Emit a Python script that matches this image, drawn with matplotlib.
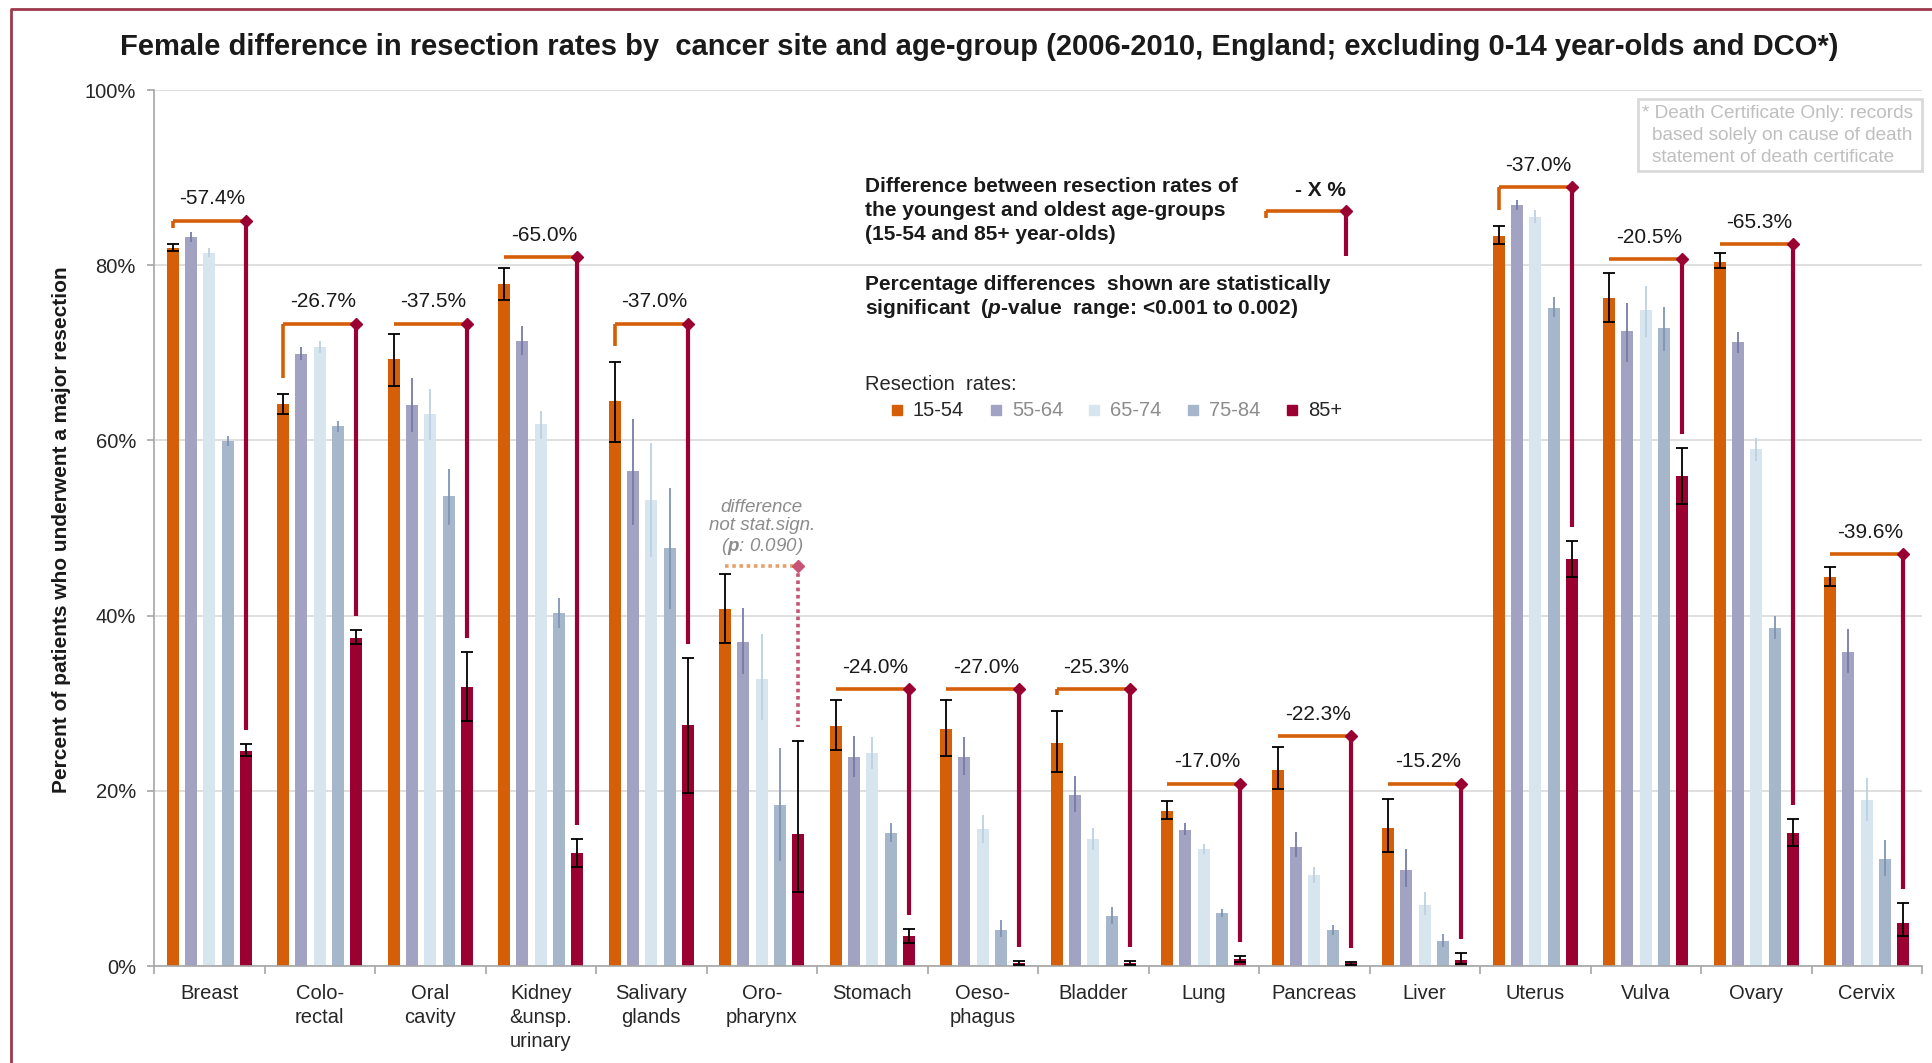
import numpy as np
import matplotlib.pyplot as plt
from matplotlib.lines import Line2D
from matplotlib.patches import Rectangle

plt.rcParams['font.family'] = ['Liberation Sans', 'DejaVu Sans']
plt.rcParams['mathtext.fontset'] = 'custom'
plt.rcParams['mathtext.rm'] = 'Liberation Sans'
plt.rcParams['mathtext.it'] = 'Liberation Sans:italic'
plt.rcParams['mathtext.bf'] = 'Liberation Sans:bold:italic'

# data (percent of patients with a major resection, with 95% CI)
sites = ['Breast', 'Colo-\nrectal', 'Oral\ncavity', 'Kidney\n&unsp.\nurinary', 'Salivary\nglands',
         'Oro-\npharynx', 'Stomach', 'Oeso-\nphagus', 'Bladder', 'Lung', 'Pancreas', 'Liver',
         'Uterus', 'Vulva', 'Ovary', 'Cervix']
groups = ['15-54', '55-64', '65-74', '75-84', '85+']

rate_15_54 = [82.0, 64.2, 69.3, 77.9, 64.5, 40.8, 27.4, 27.1, 25.5, 17.7, 22.4, 15.8, 83.3, 76.3, 80.4, 44.4]
lo_15_54 = [81.6, 63.0, 66.2, 76.0, 59.8, 36.9, 24.7, 24.0, 22.2, 16.8, 20.2, 13.0, 82.4, 73.5, 79.7, 43.4]
hi_15_54 = [82.4, 65.3, 72.2, 79.7, 69.0, 44.8, 30.4, 30.4, 29.1, 18.8, 25.0, 19.1, 84.5, 79.1, 81.4, 45.6]

rate_55_64 = [83.2, 69.9, 64.0, 71.4, 56.5, 37.0, 23.9, 23.9, 19.5, 15.5, 13.6, 11.0, 86.9, 72.5, 71.2, 35.9]
lo_55_64 = [82.7, 69.2, 61.0, 69.7, 50.3, 33.3, 21.6, 21.8, 17.6, 15.0, 12.4, 9.0, 86.3, 68.9, 70.0, 33.4]
hi_55_64 = [83.8, 70.7, 67.1, 73.1, 62.5, 40.9, 26.3, 26.1, 21.7, 16.3, 15.3, 13.3, 87.5, 75.7, 72.4, 38.5]

rate_65_74 = [81.4, 70.7, 63.0, 61.9, 53.2, 32.8, 24.3, 15.6, 14.5, 13.3, 10.4, 7.0, 85.5, 74.9, 59.0, 18.9]
lo_65_74 = [80.9, 70.0, 60.0, 60.2, 46.7, 28.1, 22.5, 14.0, 13.2, 12.8, 9.5, 5.8, 84.8, 71.8, 57.7, 16.6]
hi_65_74 = [82.0, 71.4, 65.9, 63.4, 59.7, 37.9, 26.1, 17.2, 15.8, 13.9, 11.3, 8.5, 86.3, 77.6, 60.3, 21.5]

rate_75_84 = [59.9, 61.6, 53.6, 40.3, 47.7, 18.4, 15.2, 4.1, 5.7, 6.0, 4.1, 2.8, 75.1, 72.8, 38.6, 12.2]
lo_75_84 = [59.4, 61.0, 50.3, 38.6, 40.8, 12.0, 14.1, 3.3, 4.8, 5.6, 3.5, 2.2, 74.1, 70.2, 37.3, 10.3]
hi_75_84 = [60.5, 62.2, 56.7, 42.0, 54.6, 24.9, 16.3, 5.2, 6.7, 6.5, 4.7, 3.7, 76.4, 75.2, 39.9, 14.4]

rate_85 = [24.6, 37.5, 31.9, 12.9, 27.5, 15.1, 3.4, 0.3, 0.3, 0.8, 0.3, 0.7, 46.5, 55.9, 15.2, 4.9]
lo_85 = [24.0, 36.8, 28.0, 11.3, 19.8, 8.5, 2.6, 0.1, 0.1, 0.5, 0.1, 0.2, 44.4, 52.7, 13.7, 3.4]
hi_85 = [25.3, 38.3, 35.8, 14.5, 35.2, 25.7, 4.2, 0.6, 0.6, 1.1, 0.5, 1.5, 48.5, 59.1, 16.8, 7.2]

# youngest vs oldest difference brackets
bracket_y = [85.1, 73.3, 73.3, 80.9, 73.3, 45.7, 31.6, 31.6, 31.6, 20.8, 26.2, 20.8, 88.9, 80.7, 82.4, 47.0]
diff_labels = ['-57.4%', '-26.7%', '-37.5%', '-65.0%', '-37.0%', None, '-24.0%', '-27.0%', '-25.3%',
               '-17.0%', '-22.3%', '-15.2%', '-37.0%', '-20.5%', '-65.3%', '-39.6%']

rates = [rate_15_54, rate_55_64, rate_65_74, rate_75_84, rate_85]
los = [lo_15_54, lo_55_64, lo_65_74, lo_75_84, lo_85]
his = [hi_15_54, hi_55_64, hi_65_74, hi_75_84, hi_85]

colors = ['#D45F08', '#A2A3C3', '#D7E5EF', '#A6B7CB', '#9B0033']
err_colors = ['black', '#767CA8', '#BCD1E2', '#7F94B4', 'black']
orange = '#D45F08'
crimson = '#9B0033'

W, H = 1932, 1063
fig = plt.figure(figsize=(W / 100, H / 100), dpi=100)
ax = fig.add_axes([154 / W, 1 - 966 / H, 1768 / W, 876 / H])

x = np.arange(len(sites))
offsets = (np.arange(5) - 2) * 0.166
bw = 0.108

for i in range(5):
    v = np.array(rates[i])
    lo = np.array(los[i])
    hi = np.array(his[i])
    ax.bar(x + offsets[i], v, width=bw, color=colors[i], zorder=2, label=groups[i])
    if i in (0, 4):
        ax.errorbar(x + offsets[i], v, yerr=[v - lo, hi - v], fmt='none', ecolor='black',
                    elinewidth=1.3, capsize=4.5, capthick=1.3, zorder=4)
    else:
        ax.errorbar(x + offsets[i], v, yerr=[v - lo, hi - v], fmt='none', ecolor=err_colors[i],
                    elinewidth=1.3, capsize=0, zorder=3)

# brackets
for k in range(len(sites)):
    xl = x[k] + offsets[0]
    xr = x[k] + offsets[4]
    yb = bracket_y[k]
    red_end = hi_85[k] + 1.6
    stub_end = hi_15_54[k] + 1.8
    if diff_labels[k] is None:
        ax.plot([xl, xr], [yb, yb], color='#E8A06A', lw=2.6, ls=(0, (1, 1)), zorder=5,
                solid_capstyle='butt')
        ax.plot([xr, xr], [yb, red_end], color='#C65474', lw=2.6, ls=(0, (1, 1)), zorder=5)
        ax.plot([xr], [yb], marker='D', ms=6, color='#C65474', zorder=6)
        ax.text(x[k], yb + 1.0,
                'difference\nnot stat.sign.\n($\\mathbf{p}$: 0.090)',
                ha='center', va='bottom', fontsize=13.5, style='italic', color='#8C8C8C',
                linespacing=1.12)
        continue
    ax.plot([xl, xr], [yb, yb], color=orange, lw=2.6, zorder=5, solid_capstyle='butt')
    if yb - stub_end > 0.3:
        ax.plot([xl, xl], [yb, stub_end], color=orange, lw=2.6, zorder=5, solid_capstyle='butt')
    ax.plot([xr, xr], [yb, red_end], color=crimson, lw=3, zorder=5, solid_capstyle='butt')
    ax.plot([xr], [yb], marker='D', ms=6, color=crimson, zorder=6)
    ax.text((xl + xr) / 2 + 0.03, yb + 2.5, diff_labels[k], ha='center', va='center',
            fontsize=15, color='#1A1A1A')

ax.set_xlim(-0.5, len(sites) - 0.5)
ax.set_ylim(0, 100)
ax.set_yticks([0, 20, 40, 60, 80, 100])
ax.set_yticklabels(['0%', '20%', '40%', '60%', '80%', '100%'], fontsize=14.5, color='#262626')
ax.set_xticks(x)
ax.set_xticklabels(sites, fontsize=14.5, color='#262626', linespacing=1.33)
ax.set_xticks(np.arange(-0.5, len(sites), 1), minor=True)
ax.tick_params(axis='x', which='major', length=0, pad=13)
ax.tick_params(axis='x', which='minor', length=6, color='#A6A6A6', width=1.2)
ax.tick_params(axis='y', length=5, color='#A6A6A6', width=1.2, pad=8)
ax.grid(axis='y', color='#D9D9D9', lw=1.2, zorder=0)
ax.set_axisbelow(True)
for s in ['top', 'right']:
    ax.spines[s].set_visible(False)
for s in ['left', 'bottom']:
    ax.spines[s].set_color('#A6A6A6')
    ax.spines[s].set_linewidth(1.2)

fig.text(62 / W, 1 - 530 / H, 'Percent of patients who underwent a major resection',
         rotation=90, ha='center', va='center', fontsize=15, fontweight='bold', color='#1A1A1A')

fig.text(979 / W, 1 - 47 / H,
         'Female difference in resection rates by  cancer site and age-group '
         '(2006-2010, England; excluding 0-14 year-olds and DCO*)',
         ha='center', va='center', fontsize=21, fontweight='bold', color='#1A1A1A')


def fx(px):
    return px / W


def fy(py):
    return 1 - py / H


# explanation block
fig.text(fx(865), fy(187), 'Difference between resection rates of', fontsize=15,
         fontweight='bold', va='center', color='#1A1A1A')
fig.text(fx(865), fy(211), 'the youngest and oldest age-groups', fontsize=15,
         fontweight='bold', va='center', color='#1A1A1A')
fig.text(fx(865), fy(235), '(15-54 and 85+ year-olds)', fontsize=15,
         fontweight='bold', va='center', color='#1A1A1A')
fig.text(fx(1320), fy(190), '- X %', fontsize=15, fontweight='bold', ha='center', va='center',
         color='#1A1A1A')
fig.add_artist(Line2D([fx(1266), fx(1346)], [fy(211), fy(211)], color=orange, lw=2.6,
                      transform=fig.transFigure, solid_capstyle='butt'))
fig.add_artist(Line2D([fx(1266), fx(1266)], [fy(211), fy(218)], color=orange, lw=2.6,
                      transform=fig.transFigure, solid_capstyle='butt'))
fig.add_artist(Line2D([fx(1346), fx(1346)], [fy(211), fy(256)], color=crimson, lw=3,
                      transform=fig.transFigure, solid_capstyle='butt'))
fig.add_artist(Line2D([fx(1346)], [fy(211)], marker='D', ms=6, color=crimson,
                      transform=fig.transFigure))

fig.text(fx(865), fy(285), 'Percentage differences  shown are statistically', fontsize=15,
         fontweight='bold', va='center', color='#1A1A1A')
fig.text(fx(865), fy(309), 'significant  ($\\mathbf{p}$-value  range: <0.001 to 0.002)', fontsize=15,
         fontweight='bold', va='center', color='#1A1A1A')

# legend
fig.text(fx(865), fy(384), 'Resection  rates:', fontsize=14.5, va='center', color='#262626')
leg_sq_x = [897, 996, 1094, 1193, 1292]
leg_txt_color = ['#262626', '#8C8C8C', '#8C8C8C', '#8C8C8C', '#262626']
for i in range(5):
    fig.add_artist(Line2D([fx(leg_sq_x[i])], [fy(410)], marker='s', ms=7.5, color=colors[i],
                          transform=fig.transFigure))
    fig.text(fx(leg_sq_x[i] + 16), fy(410), groups[i], fontsize=14.5, va='center',
             color=leg_txt_color[i])

# DCO note
fig.add_artist(Rectangle((fx(1638), fy(171)), 284 / W, 72 / H, transform=fig.transFigure,
                         fill=False, ec='#D9D9D9', lw=2))
fig.text(fx(1642), fy(113), '* Death Certificate Only: records', fontsize=13.7, va='center',
         color='#BFBFBF')
fig.text(fx(1652), fy(135), 'based solely on cause of death', fontsize=13.7, va='center',
         color='#BFBFBF')
fig.text(fx(1652), fy(157), 'statement of death certificate', fontsize=13.7, va='center',
         color='#BFBFBF')

# frame
fig.add_artist(Line2D([fx(11), fx(11), 1.0], [0.0, fy(9), fy(9)], color='#9E3A4C', lw=2,
                      transform=fig.transFigure))

plt.savefig('out.png', dpi=100)
